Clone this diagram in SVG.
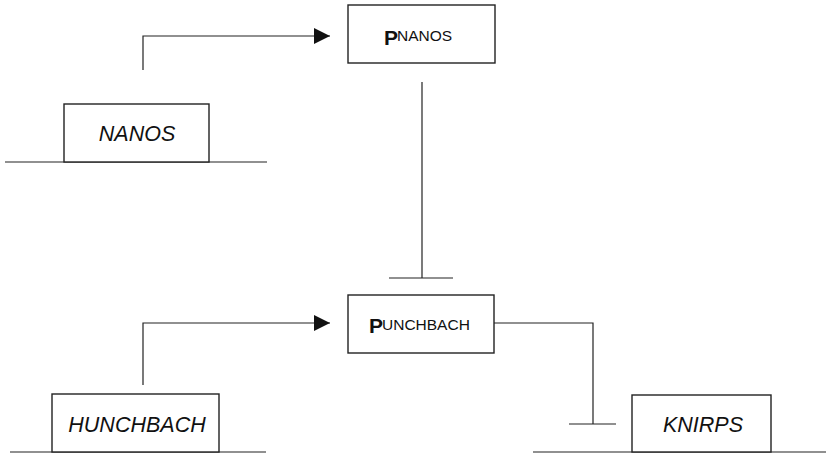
<svg xmlns="http://www.w3.org/2000/svg" width="826" height="456" viewBox="0 0 826 456">
<defs>
<style>
.box{fill:#fff;stroke:#222;stroke-width:1.4}
.ln{fill:none;stroke:#222;stroke-width:1.2}
.gene{font-family:"Liberation Sans",Arial,sans-serif;font-style:italic;font-size:21.5px;fill:#111;text-anchor:middle}
.prot{font-family:"Liberation Sans",Arial,sans-serif;fill:#111}
.big{font-weight:bold;font-size:21px}
.small{font-size:15.5px}
</style>
<marker id="arr" viewBox="0 0 10 10" refX="10" refY="5" markerWidth="16" markerHeight="16" markerUnits="userSpaceOnUse" orient="auto">
<path d="M0,0 L10,5 L0,10 z" fill="#111"/>
</marker>
</defs>
<g id="connectors">
<path class="ln" d="M143,70 V36 H330" marker-end="url(#arr)"/>
<path class="ln" d="M422,82 V278"/>
<path class="ln" d="M389,278 H453"/>
<path class="ln" d="M143,385 V323 H330" marker-end="url(#arr)"/>
<path class="ln" d="M494,323 H593 V424"/>
<path class="ln" d="M569,424 H616"/>
</g>
<g id="nanos">
<path class="ln" d="M5,162 H267"/>
<rect class="box" x="64" y="104" width="145" height="58"/>
<text class="gene" x="137" y="141">NANOS</text>
</g>
<g id="pnanos">
<rect class="box" x="348" y="5" width="147" height="58"/>
<text class="prot"><tspan class="big" x="384" y="45">P</tspan><tspan class="small" x="397" y="41">NANOS</tspan></text>
</g>
<g id="punchbach">
<rect class="box" x="348" y="295" width="146" height="58"/>
<text class="prot"><tspan class="big" x="369" y="333">P</tspan><tspan class="small" x="382" y="330">UNCHBACH</tspan></text>
</g>
<g id="hunchbach">
<path class="ln" d="M10,452 H266"/>
<rect class="box" x="52" y="394" width="167" height="58"/>
<text class="gene" x="137" y="432">HUNCHBACH</text>
</g>
<g id="knirps">
<path class="ln" d="M533,452 H826"/>
<rect class="box" x="632" y="395" width="139" height="57"/>
<text class="gene" x="703" y="432">KNIRPS</text>
</g>
</svg>
